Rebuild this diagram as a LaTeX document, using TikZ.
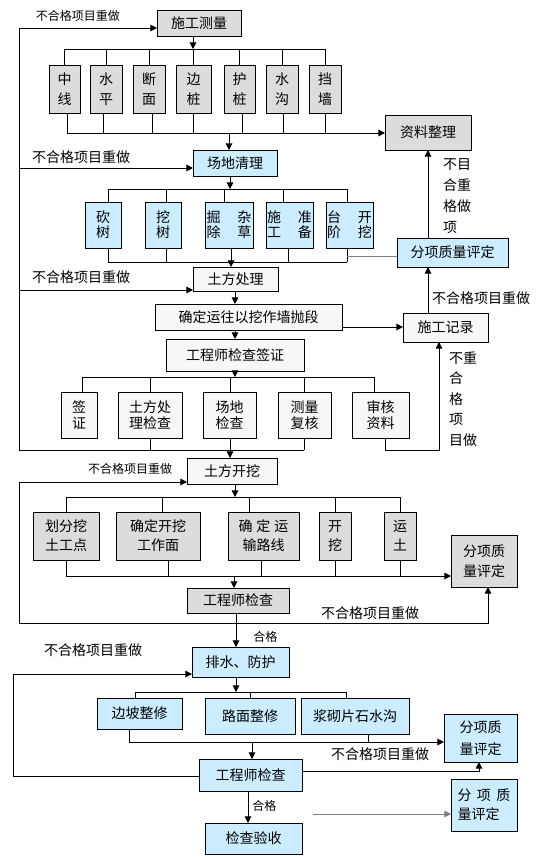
\documentclass[tikz,border=0pt]{standalone}
\usepackage{fontspec}
\setmainfont{Noto Sans CJK SC}
\usetikzlibrary{arrows.meta}
\definecolor{bgray}{HTML}{DCDCDC}
\definecolor{bblue}{HTML}{CCECFF}
\definecolor{blight}{HTML}{F7F7F7}
\newcommand\fsz[2]{\fontsize{#1}{#2}\selectfont}
\newcommand\gp{\hspace{12.75pt}}
\newcommand\bx[7]{\node[#6, minimum width={(#4-#2)*0.75pt}, minimum height={(#5-#3)*0.75pt}] (#1) at ({(#2+#4)/2},{(#3+#5)/2}) {#7};}
\begin{document}
\begin{tikzpicture}[x=0.75pt,y=-0.75pt,
 box/.style={draw=black, line width=0.75pt, inner sep=0pt, outer sep=0pt, align=center, font=\fsz{10.5}{15}},
 gr/.style={box, fill=bgray},
 bl/.style={box, fill=bblue},
 lt/.style={box, fill=blight},
 lbl/.style={inner sep=0pt, font=\fsz{10.5}{15}},
 ln/.style={line width=0.75pt},
 arr/.style={ln, -{Triangle[length=5pt,width=5pt]}},
 garr/.style={line width=0.75pt, draw=gray, -{Triangle[length=5pt,width=5pt]}}]
\fill[white] (0,0) rectangle (538,857);
\useasboundingbox (0,0) rectangle (538,857);

% ---------- section 1 ----------
\bx{sgcl}{157}{10}{241}{36}{gr}{施工测量}
\node[lbl, font=\fsz{9}{12}] (l1) at (78,16) {不合格项目重做};
\bx{zx}{49}{65}{80}{113}{gr}{中\\线}
\bx{sp}{90}{65}{122}{113}{gr}{水\\平}
\bx{dm}{133}{65}{165}{113}{gr}{断\\面}
\bx{bz}{176}{65}{211}{113}{gr}{边\\桩}
\bx{hz}{224}{65}{255}{113}{gr}{护\\桩}
\bx{sg}{266}{65}{298}{113}{gr}{水\\沟}
\bx{dq}{309}{65}{341}{113}{gr}{挡\\墙}
\bx{zlzl}{385}{115}{471}{150}{gr}{资料整理}
\draw[arr] (sgcl.south -| 193,0) -- (193,49);
\draw[ln] (64,49) -- (325,49);
\foreach \n/\x in {zx/64,sp/106,dm/149,bz/193,hz/239,sg/282,dq/325}
  \draw[ln] (\x,49) -- (\n.north -| \x,0);
\foreach \n/\x in {zx/67,sp/103,dm/152,bz/193,hz/242,sg/283,dq/325}
  \draw[ln] (\n.south -| \x,0) -- (\x,133);
\draw[arr] (67,133) -- (zlzl.west |- 0,133);

\bx{cdql}{193}{150}{277}{176}{bl}{场地清理}
\draw[arr] (229,133) -- (cdql.north -| 229,0);
\node[lbl] (l2) at (81,157) {不合格项目重做};
\draw[arr] (19,168) -- (cdql.west |- 0,168);
\draw[arr] (cdql.south -| 230,0) -- (230,189);
\draw[ln] (108,189) -- (347,189);
\bx{ks}{85}{202}{121}{248}{bl,font=\fsz{10.5}{11.25}}{砍\\树}
\bx{ws}{145}{202}{181}{248}{bl,font=\fsz{10.5}{11.25}}{挖\\树}
\bx{jc}{205}{202}{253}{248}{bl,font=\fsz{10.5}{11.25}}{掘\gp 杂\\除\gp 草}
\bx{sz}{266}{202}{313}{248}{bl,font=\fsz{10.5}{11.25}}{施\gp 准\\工\gp 备}
\bx{tj}{326}{202}{373}{248}{bl,font=\fsz{10.5}{11.25}}{台\gp 开\\阶\gp 挖}
\foreach \n/\x in {ks/108,ws/166,jc/224,sz/283,tj/347}
  \draw[ln] (\x,189) -- (\n.north -| \x,0);
\foreach \n/\x in {ks/108,ws/166,jc/231,sz/288,tj/347}
  \draw[ln] (\n.south -| \x,0) -- (\x,262);
\draw[ln] (108,262) -- (347,262);

\bx{fxpd1}{397}{238}{508}{267}{bl}{分项质量评定}
\draw[ln, draw=gray] (347,256) -- (fxpd1.west |- 0,256);
\draw[arr] (fxpd1.north -| 428,0) -- (zlzl.south -| 428,0);
\node[lbl, align=left, font=\fsz{10.5}{15.75}] (l3) at (457,196.5) {不目\\合重\\格做\\项};

\bx{tfcl}{193}{267}{278}{291}{lt}{土方处理}
\draw[arr] (231,262) -- (tfcl.north -| 231,0);
\node[lbl] (l4) at (81,277) {不合格项目重做};
\draw[arr] (19,290) -- (tfcl.west |- 0,290);
\bx{qdyw}{155}{304}{342}{330}{lt}{确定运往以挖作墙抛段}
\bx{gcsqz}{166}{339}{304}{371}{lt}{工程师检查签证}
\draw[arr] (tfcl.south -| 235,0) -- (qdyw.north -| 235,0);
\draw[arr] (qdyw.south -| 235,0) -- (gcsqz.north -| 235,0);
\bx{sgjl}{403}{313}{488}{342}{lt}{施工记录}
\draw[arr] (qdyw.east |- 0,327) -- (sgjl.west |- 0,327);
\draw[arr] (sgjl.north -| 428,0) -- (fxpd1.south -| 428,0);
\node[lbl] (l5) at (481,298) {不合格项目重做};

\draw[arr] (gcsqz.south -| 235,0) -- (235,377);
\draw[ln] (82,377) -- (374,377);
\bx{qz}{61}{392}{97}{438}{lt,font=\fsz{10.5}{12}}{签\\证}
\bx{tfjc}{118}{392}{182}{438}{lt,font=\fsz{10.5}{12}}{土方处\\理检查}
\bx{cdjc}{203}{392}{256}{438}{lt,font=\fsz{10.5}{12}}{场地\\检查}
\bx{clfh}{278}{392}{331}{438}{lt,font=\fsz{10.5}{12}}{测量\\复核}
\bx{shzl}{352}{392}{409}{438}{lt,font=\fsz{10.5}{12}}{审核\\资料}
\foreach \n/\x in {qz/82,tfjc/150,cdjc/230,clfh/304,shzl/374}
  \draw[ln] (\x,377) -- (\n.north -| \x,0);
\foreach \n/\x in {tfjc/150,cdjc/230,clfh/304}
  \draw[ln] (\n.south -| \x,0) -- (\x,450);
\draw[ln] (304,450) -- (19,450) -- (19,28);
\draw[arr] (19,28) -- (sgcl.west |- 0,28);
\draw[arr] (shzl.south -| 385,0) -- (385,450) -- (439,450) -- (sgjl.south -| 439,0);
\node[lbl, align=left, font=\fsz{10.5}{15.4}] (l6) at (463,399) {不重\\合\\格\\项\\目做};

% ---------- section 2 ----------
\bx{tfkw}{187}{458}{277}{484}{lt}{土方开挖}
\draw[arr] (230,450) -- (tfkw.north -| 230,0);
\node[lbl, font=\fsz{9}{12}] (l7) at (130,469) {不合格项目重做};
\draw[arr] (19,482) -- (tfkw.west |- 0,482);
\bx{fxpd2}{451}{535}{517}{587}{gr}{分项质\\量评定}
\draw[arr] (19,482) -- (19,623) -- (488,623) -- (fxpd2.south -| 488,0);
\node[lbl] (l8) at (370,613) {不合格项目重做};
\draw[arr] (tfkw.south -| 235,0) -- (235,497);
\draw[ln] (66,497) -- (400,497);
\bx{hf}{33}{512}{99}{560}{gr,font=\fsz{10.5}{14.25}}{划分挖\\土工点}
\bx{qdkw}{116}{512}{200}{560}{gr,font=\fsz{10.5}{14.25}}{确定开挖\\工作面}
\bx{qdys}{228}{512}{299}{560}{gr,font=\fsz{10.5}{14.25}}{确\hspace{3pt}定\hspace{3pt}运\\输路线}
\bx{kw}{319}{512}{351}{560}{gr,font=\fsz{10.5}{14.25}}{开\\挖}
\bx{yt}{384}{512}{416}{560}{gr,font=\fsz{10.5}{14.25}}{运\\土}
\foreach \n/\x in {hf/66,qdkw/162,qdys/249,kw/335,yt/400}
  \draw[ln] (\x,497) -- (\n.north -| \x,0);
\foreach \n/\x in {hf/66,qdkw/168,qdys/261,kw/335,yt/400}
  \draw[ln] (\n.south -| \x,0) -- (\x,576);
\draw[arr] (66,576) -- (fxpd2.west |- 0,576);
\bx{gcsjc2}{187}{588}{289}{613}{gr}{工程师检查}
\draw[arr] (234,576) -- (gcsjc2.north -| 234,0);

% ---------- section 3 ----------
\bx{psfh}{192}{647}{289}{677}{bl}{排水、防护}
\draw[arr] (gcsjc2.south -| 236,0) -- (psfh.north -| 236,0);
\node[lbl, anchor=west, font=\fsz{9}{12}] (l9) at (253,637) {合格};
\node[lbl] (l10) at (93,650) {不合格项目重做};
\draw[arr] (psfh.south -| 236,0) -- (236,692);
\draw[ln] (135,692) -- (346,692);
\bx{bpzx}{97}{698}{182}{729}{bl}{边坡整修}
\bx{lmzx}{205}{698}{295}{734}{bl}{路面整修}
\bx{jqps}{301}{698}{409}{734}{bl}{浆砌片石水沟}
\foreach \n/\x in {bpzx/135,lmzx/250,jqps/346}
  \draw[ln] (\x,692) -- (\n.north -| \x,0);
\bx{fxpd3}{444}{714}{517}{762}{bl,font=\fsz{10.5}{16.5}}{分项质\\量评定}
\draw[ln] (bpzx.south -| 129,0) -- (129,742);
\draw[ln] (jqps.south -| 368,0) -- (368,742);
\draw[arr] (129,742) -- (fxpd3.west |- 0,742);
\bx{gcsjc3}{199}{759}{302}{791}{bl}{工程师检查}
\draw[arr] (252,742) -- (gcsjc3.north -| 252,0);
\node[lbl] (l11) at (380,754) {不合格项目重做};
\draw[arr] (gcsjc3.west |- 0,776) -- (13,776) -- (13,674) -- (psfh.west |- 0,674);
\draw[arr] (gcsjc3.east |- 0,771) -- (479,771) -- (fxpd3.south -| 479,0);
\bx{jcys}{205}{823}{302}{854}{bl}{检查验收}
\draw[arr] (gcsjc3.south -| 248,0) -- (jcys.north -| 248,0);
\node[lbl, anchor=west, font=\fsz{9}{12}] (l12) at (252,806) {合格};
\bx{fxpd4}{451}{779}{517}{831}{bl,align=left,font=\fsz{10.5}{14.25}}{分\hspace{4pt}项\hspace{4pt}质\\量评定}
\coordinate (gs) at (313,814);
\draw[garr] (gs) -- (fxpd4.west |- 0,814);
\end{tikzpicture}
\end{document}
